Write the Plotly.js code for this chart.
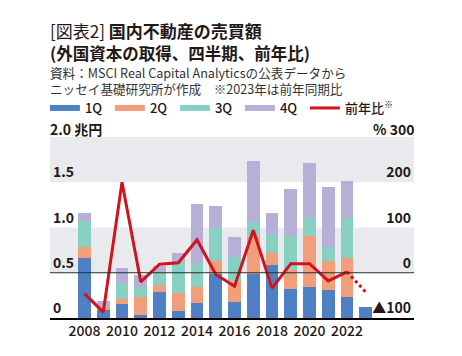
<!DOCTYPE html>
<html>
<head>
<meta charset="utf-8">
<script src="https://cdn.plot.ly/plotly-3.0.1.min.js"></script>
<style>
html,body{margin:0;padding:0;background:#fff;}
#chart{width:462px;height:356px;}
</style>
</head>
<body>
<div id="chart"></div>
<script>
// Data (兆円 per quarter, YoY %)
const years = [2008,2009,2010,2011,2012,2013,2014,2015,2016,2017,2018,2019,2020,2021,2022,2023];
const q1 = [0.66,0.085,0.15,0.035,0.29,0.076,0.165,0.49,0.176,0.49,0.583,0.325,0.342,0.305,0.231,0.12];
const q2 = [0.12,0.035,0.055,0.20,0.075,0.20,0.177,0.14,0.224,0.40,0.13,0.203,0.564,0.323,0.427,null];
const q3 = [0.295,0.01,0.178,0.112,0.145,0.344,0.268,0.37,0.27,0.175,0.217,0.382,0.214,0.152,0.442,null];
const q4 = [0.09,0.055,0.175,0.123,0.066,0.10,0.65,0.24,0.228,0.675,0.235,0.51,0.593,0.667,0.41,null];
const yoy = [-46,-87,200,-20,19,22,73,-4,-30,94,-34,20,20,-18,2,-43];
const xTickVals = [2008,2010,2012,2014,2016,2018,2020,2022];
const yTickVals = [0,0.5,1,1.5];
const yTickText = ["0","0.5","1.0","1.5"];
const yTopLabel = "2.0 兆円";
const y2TickVals = [-100,0,100,200];
const y2TickText = ["▲100","0","100","200"];
const y2TopLabel = "% 300";
const seriesNames = ["1Q","2Q","3Q","4Q"];
const lineName = "前年比<sup>※</sup>";

const colors = ["#5080c4","#f19e7a","#88d0c1","#b8afd8"];
const red = "#d2121d";
const FONT = "'Noto Sans CJK JP', 'Noto Sans', sans-serif";
const qs = [q1,q2,q3,q4];

const traces = [];
qs.forEach((q,i)=>{
  traces.push({type:'bar', x:years, y:q, name:seriesNames[i], marker:{color:colors[i], line:{width:0}},
    showlegend:false, hoverinfo:'skip', yaxis:'y'});
});
// legend-only samples
qs.forEach((q,i)=>{
  traces.push({type:'scatter', mode:'lines', x:[null], y:[null], name:seriesNames[i],
    line:{color:colors[i], width:6}, showlegend:true, yaxis:'y'});
});
const nSolid = years.length - 1;
traces.push({type:'scatter', mode:'lines', x:years.slice(0,nSolid), y:yoy.slice(0,nSolid), name:lineName,
  line:{color:red, width:3}, yaxis:'y2', showlegend:true, legendwidth:70});
traces.push({type:'scatter', mode:'lines', x:years.slice(nSolid-1), y:yoy.slice(nSolid-1), name:'dot',
  line:{color:red, width:3, dash:'dot'}, yaxis:'y2', showlegend:false});

const band = '#e8eaed';
function yp(px){ return (318-px)/181; }

const layout = {
  width:462, height:356,
  margin:{l:50, r:48, t:137, b:38},
  paper_bgcolor:'#fff', plot_bgcolor:'#fff',
  font:{family:FONT, color:'#231815'},
  barmode:'stack', bargap:0.32,
  showlegend:true,
  legend:{orientation:'h', x:-0.014, xanchor:'left', y:yp(108), yanchor:'middle',
    font:{size:13, color:'#231815', weight:500}, traceorder:'normal', entrywidth:20, bgcolor:'rgba(0,0,0,0)'},
  xaxis:{range:[2006.16,2025.57], tickvals:xTickVals, showgrid:false, zeroline:false,
    showline:true, linecolor:'#000', linewidth:1.5, ticks:'',
    tickfont:{size:14, color:'#231815', weight:500}},
  yaxis:{range:[0,2], tickvals:yTickVals, ticktext:yTickText, showgrid:false, zeroline:false,
    ticklabelposition:'inside top', ticks:'', tickfont:{size:14, color:'#231815', weight:'bold'}},
  yaxis2:{range:[-100,300], overlaying:'y', side:'right', tickvals:y2TickVals, ticktext:y2TickText,
    showgrid:false, zeroline:false, ticklabelposition:'inside top', ticks:'',
    tickfont:{size:14, color:'#231815', weight:'bold'}},
  shapes:[
    {type:'rect', xref:'paper', yref:'y', x0:0, x1:1, y0:1.5, y1:2, fillcolor:band, line:{width:0}, layer:'below'},
    {type:'rect', xref:'paper', yref:'y', x0:0, x1:1, y0:0.5, y1:1, fillcolor:band, line:{width:0}, layer:'below'},
    {type:'line', xref:'paper', yref:'y2', x0:0, x1:1, y0:0, y1:0, line:{color:'#1d3030', width:1.2}, layer:'above'}
  ],
  annotations:[
    {xref:'paper', yref:'paper', x:-0.005, y:yp(30), xanchor:'left', yanchor:'middle', showarrow:false,
      text:'[図表2] <b>国内不動産の売買額</b>', font:{size:17, color:'#231815'}},
    {xref:'paper', yref:'paper', x:-0.005, y:yp(53), xanchor:'left', yanchor:'middle', showarrow:false,
      text:'<b>(外国資本の取得、四半期、前年比)</b>', font:{size:16.5, color:'#231815'}},
    {xref:'paper', yref:'paper', x:-0.005, y:yp(80.5), xanchor:'left', yanchor:'middle', showarrow:false, align:'left',
      text:'資料：MSCI Real Capital Analyticsの公表データから<br>ニッセイ基礎研究所が作成　※2023年は前年同期比',
      font:{size:12.6, color:'#333'}},
    {xref:'paper', yref:'paper', x:-0.005, y:yp(129), xanchor:'left', yanchor:'middle', showarrow:false,
      text:'<b>' + yTopLabel + '</b>', font:{size:14, color:'#231815'}},
    {xref:'paper', yref:'paper', x:1.005, y:yp(129), xanchor:'right', yanchor:'middle', showarrow:false,
      text:'<b>' + y2TopLabel + '</b>', font:{size:14, color:'#231815'}}
  ]
};

Plotly.newPlot('chart', traces, layout, {displayModeBar:false, staticPlot:true});
</script>
</body>
</html>
